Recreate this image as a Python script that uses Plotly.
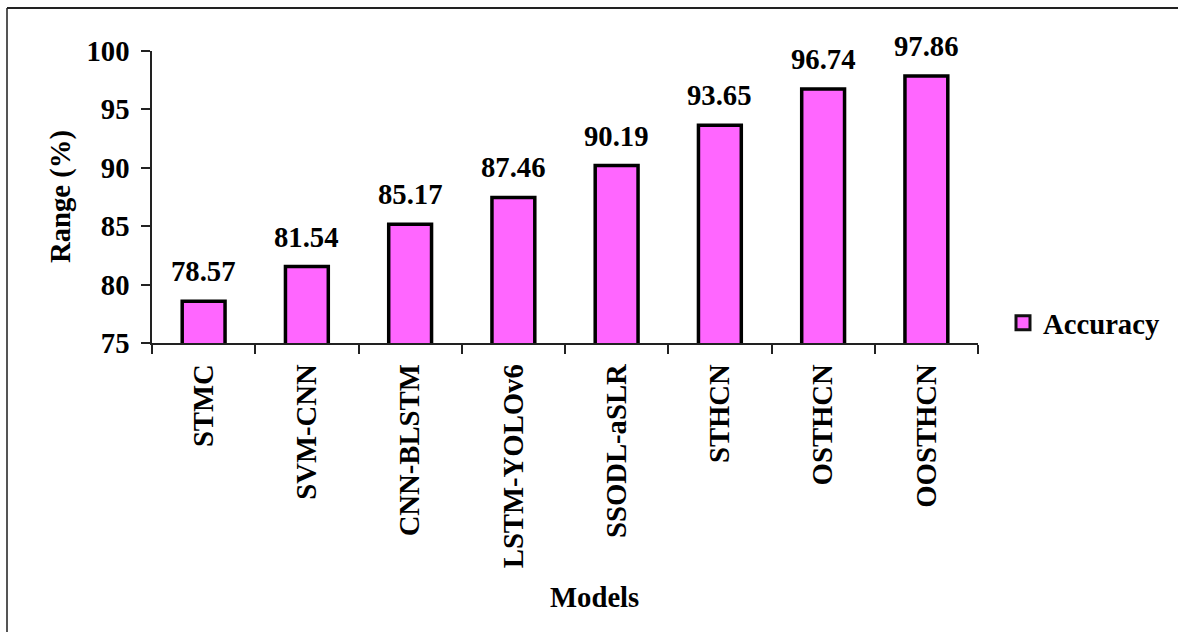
import plotly.graph_objects as go

models = ["STMC", "SVM-CNN", "CNN-BLSTM", "LSTM-YOLOv6", "SSODL-aSLR", "STHCN", "OSTHCN", "OOSTHCN"]
accuracy = [78.57, 81.54, 85.17, 87.46, 90.19, 93.65, 96.74, 97.86]
y_ticks = [75, 80, 85, 90, 95, 100]
series_name = "Accuracy"
y_title = "Range (%)"
x_title = "Models"

FONT = "Liberation Serif"
FS = 28.7
BAR_COLOR = "#FF66FF"

W, H = 1178, 632
ML, MR, MT, MB = 152, 200, 51, 289
PW = W - ML - MR
PH = H - MT - MB


def px_x(x):
    return (x - ML) / PW


def px_y(y):
    return 1 - (y - MT) / PH


fig = go.Figure()
fig.add_trace(go.Bar(
    x=models, y=accuracy, name=series_name,
    marker=dict(color=BAR_COLOR, line=dict(color="#000000", width=3.5)),
    showlegend=False,
))
# legend entry (square swatch with a heavy outline, as in the reference)
fig.add_trace(go.Scatter(
    x=[None], y=[None], name=series_name, mode="markers",
    marker=dict(symbol="square", size=14, color=BAR_COLOR,
                line=dict(color="#111111", width=3)),
    showlegend=True, hoverinfo="skip",
))

annotations = []
for m, v in zip(models, accuracy):
    annotations.append(dict(
        x=m, y=v, xref="x", yref="y", text=f"<b>{v:.2f}</b>",
        showarrow=False, yanchor="bottom", yshift=12,
        font=dict(family=FONT, size=FS, color="#000000"),
    ))
annotations.append(dict(
    x=px_x(60), y=0.5, xref="paper", yref="paper", text=f"<b>{y_title}</b>",
    textangle=-90, showarrow=False, xanchor="center", yanchor="middle",
    font=dict(family=FONT, size=FS, color="#000000"),
))
annotations.append(dict(
    x=px_x(594), y=px_y(597), xref="paper", yref="paper", text=f"<b>{x_title}</b>",
    showarrow=False, xanchor="center", yanchor="middle",
    font=dict(family=FONT, size=FS, color="#000000"),
))

fig.update_layout(
    width=W, height=H,
    margin=dict(l=ML, r=MR, t=MT, b=MB, autoexpand=False),
    paper_bgcolor="#FFFFFF", plot_bgcolor="#FFFFFF",
    bargap=0.585,
    font=dict(family=FONT, size=FS, color="#000000"),
    annotations=annotations,
    legend=dict(
        x=px_x(1003), y=px_y(323), xanchor="left", yanchor="middle",
        font=dict(family=FONT, size=FS, color="#000000", weight="bold"),
        bgcolor="rgba(0,0,0,0)", itemsizing="trace", itemwidth=30,
    ),
    shapes=[
        dict(type="line", xref="paper", yref="paper",
             x0=px_x(7), x1=px_x(7), y0=px_y(700), y1=px_y(8),
             line=dict(color="#555555", width=2)),
        dict(type="line", xref="paper", yref="paper",
             x0=px_x(7), x1=px_x(1250), y0=px_y(8), y1=px_y(8),
             line=dict(color="#222222", width=2)),
    ],
)

fig.update_xaxes(
    type="category", range=[-0.5, len(models) - 0.5],
    showline=True, linecolor="#222222", linewidth=1.5,
    ticks="outside", ticklen=9, tickwidth=1.5, tickcolor="#222222",
    tickson="boundaries", tickangle=-90, ticklabelstandoff=8,
    tickfont=dict(family=FONT, size=FS, color="#000000", weight="bold"),
    showgrid=False, zeroline=False,
)
fig.update_yaxes(
    range=[y_ticks[0], y_ticks[-1]], tickmode="array", tickvals=y_ticks,
    showline=True, linecolor="#222222", linewidth=1.5,
    ticks="outside", ticklen=9, tickwidth=1.5, tickcolor="#222222",
    ticklabelstandoff=6,
    tickfont=dict(family=FONT, size=FS, color="#000000", weight="bold"),
    showgrid=False, zeroline=False,
)

fig.write_html("out.html")
